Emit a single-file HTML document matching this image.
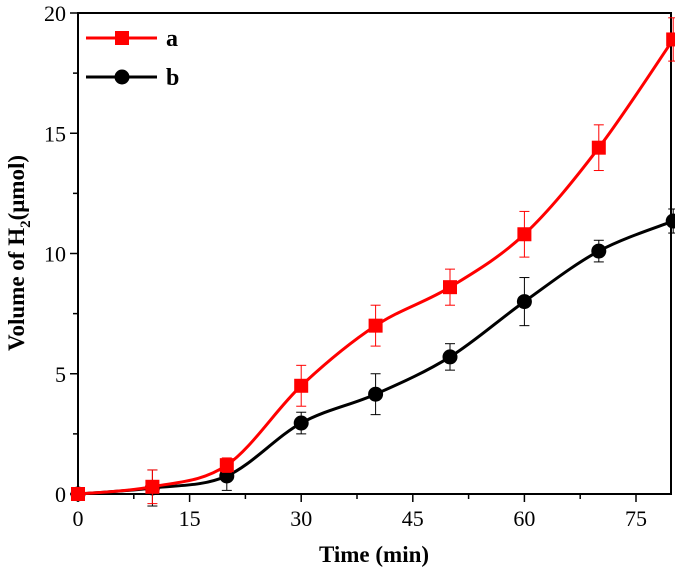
<!DOCTYPE html>
<html><head><meta charset="utf-8"><style>
body{margin:0;background:#fff}
svg text{font-family:"Liberation Serif",serif}
</style></head><body>
<svg id="chart" width="675" height="574" viewBox="0 0 675 574" xmlns="http://www.w3.org/2000/svg">
<g id="axes"></g><g id="series"></g><g id="legend"></g>
</svg>
<script>
const times=[0,10,20,30,40,50,60,70,80];
const seriesA=[0,0.3,1.2,4.5,7.0,8.6,10.8,14.4,18.9];
const errA=[0,0.7,0.3,0.85,0.85,0.75,0.95,0.95,0.9];
const seriesB=[0,0.25,0.75,2.95,4.15,5.7,8.0,10.1,11.35];
const errB=[0,0.75,0.6,0.45,0.85,0.55,1.0,0.45,0.5];
const xTicks=[0,15,30,45,60,75];
const yTicks=[0,5,10,15,20];
const NS="http://www.w3.org/2000/svg";
const L=78,R=671,T=13,B=494;
const xs=v=>L+v*(636-78)/75;
const ys=v=>B-v*(B-T)/20;
function mk(tag,attrs,parent){const e=document.createElementNS(NS,tag);for(const k in attrs)e.setAttribute(k,attrs[k]);parent.appendChild(e);return e;}
const ax=document.getElementById('axes');
const frame=mk('rect',{x:L,y:T,width:R-L,height:B-T,fill:'none',stroke:'#000','stroke-width':2},ax);


for(let v=0;v<=80;v+=7.5){const big=(v%15===0);mk('line',{x1:xs(v),x2:xs(v),y1:B,y2:B+(big?8:5),stroke:'#000','stroke-width':1.5},ax);}
for(let v=0;v<=20;v+=2.5){const big=(v%5===0);mk('line',{x1:L,x2:L-(big?8:5),y1:ys(v),y2:ys(v),stroke:'#000','stroke-width':1.5},ax);}
xTicks.forEach(v=>{const t=mk('text',{x:xs(v),y:B+32,'text-anchor':'middle','font-size':22},ax);t.textContent=v;

});
yTicks.forEach(v=>{const t=mk('text',{x:L-12,y:ys(v)+8,'text-anchor':'end','font-size':22},ax);t.textContent=v;

});
const xt=mk('text',{x:374,y:562,'text-anchor':'middle','font-size':23,'font-weight':'bold'},ax);xt.textContent='Time (min)';


const yt=mk('text',{transform:'translate(24,253) rotate(-90)','text-anchor':'middle','font-size':23,'font-weight':'bold'},ax);
yt.innerHTML='Volume of H<tspan font-size="15" dy="6">2</tspan><tspan dy="-6">(μmol)</tspan>';


function spline(pts){let d=`M${pts[0][0]},${pts[0][1]}`;for(let i=0;i<pts.length-1;i++){const p0=pts[i-1]||pts[i],p1=pts[i],p2=pts[i+1],p3=pts[i+2]||p2;
d+=` C${p1[0]+(p2[0]-p0[0])/6},${p1[1]+(p2[1]-p0[1])/6} ${p2[0]-(p3[0]-p1[0])/6},${p2[1]-(p3[1]-p1[1])/6} ${p2[0]},${p2[1]}`;}return d;}
const sg=document.getElementById('series');
function draw(vals,errs,color,shape,name){
 const g=mk('g',{},sg);
 
 
 vals.forEach((v,i)=>{if(!errs[i])return;const x=xs(times[i]);
  mk('line',{x1:x,x2:x,y1:ys(v-errs[i]),y2:ys(v+errs[i]),stroke:color,'stroke-width':1},g);
  [v-errs[i],v+errs[i]].forEach(e=>mk('line',{x1:x-5,x2:x+5,y1:ys(e),y2:ys(e),stroke:color,'stroke-width':1},g));});
 const p=mk('path',{d:spline(vals.map((v,i)=>[xs(times[i]),ys(v)])),fill:'none',stroke:color,'stroke-width':3},g);
 
 
 vals.forEach((v,i)=>{const x=xs(times[i]),y=ys(v);let m;
  if(shape==='sq')m=mk('rect',{x:x-7,y:y-7,width:14,height:14,fill:color},g);
  else m=mk('circle',{cx:x,cy:y,r:7.5,fill:color},g);
  
  });
}
draw(seriesB,errB,'#000','ci','series-b');
draw(seriesA,errA,'#f00','sq','series-a');
const lg=document.getElementById('legend');
[['a','#f00','sq',38],['b','#000','ci',77]].forEach(([n,c,s,y])=>{
 const g=mk('g',{},lg);
 
 
 mk('line',{x1:86,x2:157,y1:y,y2:y,stroke:c,'stroke-width':3},g);
 if(s==='sq')mk('rect',{x:115,y:y-7,width:14,height:14,fill:c},g);else mk('circle',{cx:122,cy:y,r:7.5,fill:c},g);
 const t=mk('text',{x:166,y:y+8,'font-size':24,'font-weight':'bold'},g);t.textContent=n;
});
</script>
</body></html>
